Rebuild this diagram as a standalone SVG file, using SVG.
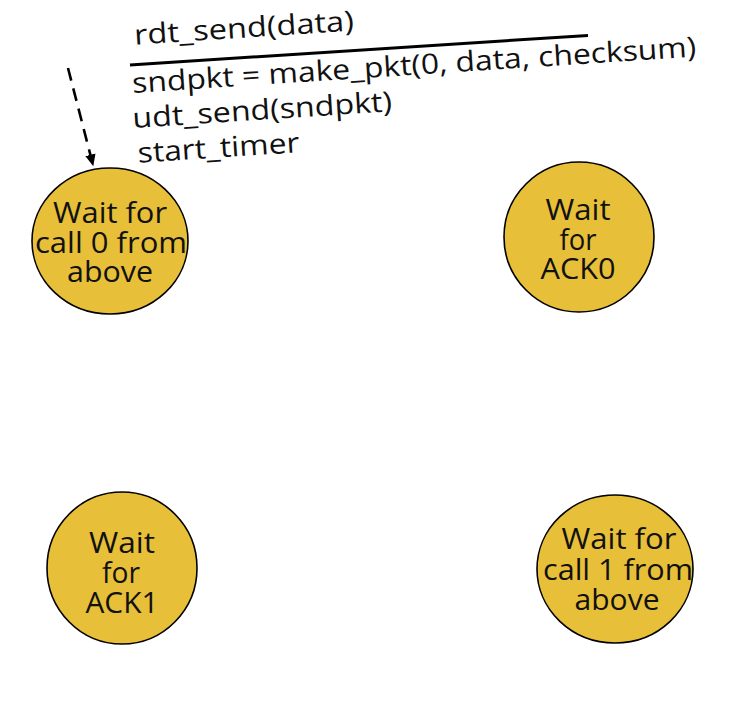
<svg xmlns="http://www.w3.org/2000/svg" width="756" height="706" viewBox="0 0 756 706">
<defs>
<style>
.st{fill:#E8BF38;stroke:#000;stroke-width:1.6}
.t{font-family:"Open Sans","Noto Sans",sans-serif;font-size:29px;fill:#111;text-anchor:middle}
.lab{font-family:"Open Sans","Noto Sans",sans-serif;font-size:28px;fill:#111}
</style>
<marker id="ah" viewBox="0 0 10 10" refX="9" refY="5" markerWidth="4.5" markerHeight="4.5" orient="auto">
<path d="M0,0.5 L10,5 L0,9.5 z" fill="#000"/>
</marker>
</defs>
<rect width="756" height="706" fill="#fff"/>
<g id="connectors">
<line x1="68" y1="68" x2="93" y2="165" stroke="#000" stroke-width="2.6" stroke-dasharray="13,8" marker-end="url(#ah)"/>
</g>
<g id="label" transform="rotate(-3.7 130 65)">
<text class="lab" x="136" y="45" textLength="220" lengthAdjust="spacingAndGlyphs">rdt_send(data)</text>
<line x1="130" y1="65" x2="589" y2="65" stroke="#000" stroke-width="3"/>
<text class="lab" x="131" y="93" textLength="565" lengthAdjust="spacingAndGlyphs">sndpkt = make_pkt(0, data, checksum)</text>
<text class="lab" x="129" y="128" textLength="260" lengthAdjust="spacingAndGlyphs">udt_send(sndpkt)</text>
<text class="lab" x="132" y="163" textLength="162" lengthAdjust="spacingAndGlyphs">start_timer</text>
</g>
<g id="s0">
<ellipse class="st" cx="110" cy="241" rx="78" ry="73"/>
<text class="t" x="110" y="223" textLength="114" lengthAdjust="spacingAndGlyphs">Wait for</text>
<text class="t" x="111" y="253" textLength="152" lengthAdjust="spacingAndGlyphs">call 0 from</text>
<text class="t" x="110" y="282" textLength="86" lengthAdjust="spacingAndGlyphs">above</text>
</g>
<g id="s1">
<ellipse class="st" cx="579" cy="237" rx="75" ry="75"/>
<text class="t" x="578" y="220" textLength="65" lengthAdjust="spacingAndGlyphs">Wait</text>
<text class="t" x="578" y="250" textLength="37" lengthAdjust="spacingAndGlyphs">for</text>
<text class="t" x="578" y="279" textLength="75" lengthAdjust="spacingAndGlyphs">ACK0</text>
</g>
<g id="s2">
<ellipse class="st" cx="122" cy="568" rx="75" ry="76"/>
<text class="t" x="122" y="553" textLength="66" lengthAdjust="spacingAndGlyphs">Wait</text>
<text class="t" x="121" y="583" textLength="38" lengthAdjust="spacingAndGlyphs">for</text>
<text class="t" x="122" y="613" textLength="73" lengthAdjust="spacingAndGlyphs">ACK1</text>
</g>
<g id="s3">
<ellipse class="st" cx="615" cy="569" rx="78" ry="74"/>
<text class="t" x="619" y="549" textLength="115" lengthAdjust="spacingAndGlyphs">Wait for</text>
<text class="t" x="618" y="580" textLength="150" lengthAdjust="spacingAndGlyphs">call 1 from</text>
<text class="t" x="617" y="610" textLength="85" lengthAdjust="spacingAndGlyphs">above</text>
</g>
</svg>
